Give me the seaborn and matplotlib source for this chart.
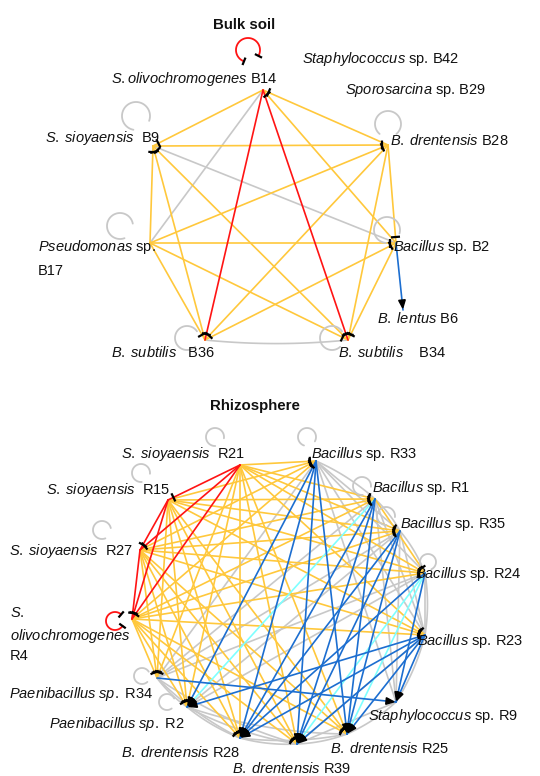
import numpy as np
import pandas as pd
import matplotlib.pyplot as plt
import seaborn as sns

sns.set_theme(style="white")
plt.rcParams['font.family'] = ['Liberation Sans', 'DejaVu Sans']
plt.rcParams['mathtext.fontset'] = 'custom'
plt.rcParams['mathtext.rm'] = 'Liberation Sans'
plt.rcParams['mathtext.it'] = 'Liberation Sans:italic'

# interaction colours
c_mutual = '#FFC83C'     # yellow
c_inhib = '#FF1414'      # red
c_neutral = '#C8C8C8'    # gray
c_promote = '#1C6ED0'    # blue
c_light = '#7FFFFF'      # cyan

# ---------------- Bulk soil ----------------
bulk_ids = ['B14', 'B9', 'B28', 'B17', 'B2', 'B6', 'B36', 'B34', 'B42', 'B29']
bulk_italic = ['S.olivochromogenes', 'S. sioyaensis', 'B. drentensis', 'Pseudomonas',
               'Bacillus', 'B. lentus', 'B. subtilis', 'B. subtilis', 'Staphylococcus', 'Sporosarcina']
bulk_plain = [' B14', '  B9', ' B28', ' sp.', ' sp. B2', ' B6', '   B36', '    B34', ' sp. B42', ' sp. B29']

bulk_yellow = [('B14', 'B9'), ('B2', 'B14'), ('B28', 'B14'), ('B9', 'B28'), ('B17', 'B28'),
               ('B28', 'B2'), ('B17', 'B2'), ('B36', 'B2'), ('B17', 'B9'), ('B36', 'B9'),
               ('B34', 'B9'), ('B17', 'B36'), ('B28', 'B36'), ('B17', 'B34'), ('B2', 'B34'),
               ('B28', 'B34')]
bulk_red = [('B14', 'B36'), ('B14', 'B34')]
bulk_gray = [('B14', 'B17'), ('B9', 'B2')]
bulk_gray_curved = [('B36', 'B34')]
bulk_blue = [('B2', 'B6')]
bulk_gray_loops = ['B9', 'B28', 'B17', 'B2', 'B36', 'B34']
bulk_red_loops = ['B14']

# ---------------- Rhizosphere ----------------
rhizo_ids = ['R21', 'R33', 'R15', 'R1', 'R35', 'R27', 'R24', 'R4', 'R23',
             'R34', 'R2', 'R9', 'R28', 'R39', 'R25']
rhizo_italic = ['S. sioyaensis', 'Bacillus', 'S. sioyaensis', 'Bacillus', 'Bacillus',
                'S. sioyaensis', 'Bacillus', 'S.', 'Bacillus', 'Paenibacillus sp.',
                'Paenibacillus sp.', 'Staphylococcus', 'B. drentensis', 'B. drentensis', 'B. drentensis']
rhizo_plain = ['  R21', ' sp. R33', '  R15', ' sp. R1', ' sp. R35', '  R27', ' sp. R24', '',
               ' sp. R23', ' R34', ' R2', ' sp. R9', ' R28', ' R39', ' R25']

rhizo_red = [('R21', 'R15'), ('R21', 'R27'), ('R21', 'R4'), ('R15', 'R27'), ('R15', 'R4'), ('R27', 'R4')]
rhizo_yellow = [
    ('R21', 'R33'), ('R21', 'R1'), ('R21', 'R35'), ('R21', 'R24'), ('R21', 'R23'),
    ('R21', 'R34'), ('R21', 'R2'), ('R21', 'R28'), ('R21', 'R39'), ('R21', 'R25'),
    ('R15', 'R33'), ('R15', 'R1'), ('R15', 'R35'), ('R15', 'R24'), ('R15', 'R23'),
    ('R15', 'R34'), ('R15', 'R2'), ('R15', 'R28'), ('R15', 'R39'), ('R15', 'R25'),
    ('R27', 'R33'), ('R27', 'R1'), ('R27', 'R35'), ('R27', 'R24'), ('R27', 'R23'),
    ('R27', 'R34'), ('R27', 'R2'), ('R27', 'R28'), ('R27', 'R39'), ('R27', 'R25'),
    ('R4', 'R33'), ('R4', 'R1'), ('R4', 'R35'), ('R4', 'R24'), ('R4', 'R23'),
    ('R4', 'R34'), ('R4', 'R2'), ('R4', 'R28'), ('R4', 'R39'), ('R4', 'R25'),
    ('R1', 'R24')]
rhizo_blue = [
    ('R33', 'R28'), ('R33', 'R39'), ('R33', 'R25'), ('R33', 'R2'),
    ('R1', 'R28'), ('R1', 'R39'), ('R1', 'R25'),
    ('R35', 'R28'), ('R35', 'R39'), ('R35', 'R25'),
    ('R24', 'R28'), ('R24', 'R9'),
    ('R23', 'R28'), ('R23', 'R39'), ('R23', 'R25'), ('R23', 'R9'), ('R23', 'R2'),
    ('R34', 'R9')]
rhizo_cyan = [('R1', 'R2'), ('R24', 'R39'), ('R24', 'R25')]
rhizo_gray = [
    ('R33', 'R35'), ('R33', 'R24'), ('R33', 'R23'), ('R1', 'R23'), ('R35', 'R23'),
    ('R33', 'R34'), ('R1', 'R34'), ('R35', 'R34'), ('R35', 'R2'), ('R24', 'R34'), ('R24', 'R2'),
    ('R33', 'R9'), ('R1', 'R9'), ('R35', 'R9'), ('R23', 'R39'), ('R9', 'R39'), ('R24', 'R23')]
rhizo_gray_curved = [
    ('R33', 'R1'), ('R1', 'R35'), ('R35', 'R24'), ('R24', 'R23'), ('R23', 'R9'),
    ('R34', 'R2'), ('R34', 'R28'), ('R2', 'R28'), ('R2', 'R39'), ('R28', 'R39'),
    ('R28', 'R25'), ('R39', 'R25'), ('R34', 'R39'), ('R2', 'R25'), ('R9', 'R25')]
rhizo_gray_loops = ['R21', 'R33', 'R15', 'R1', 'R35', 'R27', 'R24', 'R34', 'R2']
rhizo_red_loops = ['R4']

# ---------------- layout (pixel units) ----------------
pos = {
    'B14': (263, 90), 'B9': (153, 146), 'B28': (388, 145), 'B17': (150, 243),
    'B2': (396, 243), 'B6': (403, 310), 'B36': (205, 340), 'B34': (348, 340),
    'R21': (240, 465), 'R33': (316, 461), 'R15': (168, 500), 'R1': (375, 499),
    'R35': (400, 531), 'R27': (140, 550), 'R24': (425, 573), 'R4': (132, 619),
    'R23': (425, 635), 'R34': (157, 678), 'R2': (187, 707), 'R9': (396, 702),
    'R28': (240, 738), 'R39': (297, 744), 'R25': (347, 734)}
# label anchor: x, baseline y, alignment
lab = {
    'B14': (278, 83, 'right'), 'B9': (160, 142, 'right'), 'B28': (390, 145, 'left'),
    'B17': (38, 251, 'left'), 'B2': (393, 251, 'left'), 'B6': (377, 323, 'left'),
    'B36': (215, 357, 'right'), 'B34': (338, 357, 'left'), 'B42': (302, 63, 'left'),
    'B29': (345, 94, 'left'),
    'R21': (245, 458, 'right'), 'R33': (311, 458, 'left'), 'R15': (170, 494, 'right'),
    'R1': (372, 492, 'left'), 'R35': (400, 528, 'left'), 'R27': (133, 555, 'right'),
    'R24': (415, 578, 'left'), 'R4': (10, 617, 'left'), 'R23': (417, 645, 'left'),
    'R34': (153, 698, 'right'), 'R2': (185, 728, 'right'), 'R9': (368, 720, 'left'),
    'R28': (240, 757, 'right'), 'R39': (232, 773, 'left'), 'R25': (330, 753, 'left')}
# self loops: centre x, centre y, radius
loops = {
    'B14': (248, 50, 12), 'B9': (136, 116, 14), 'B28': (388, 124, 13), 'B17': (120, 226, 13),
    'B2': (387, 230, 13), 'B36': (187, 338, 12), 'B34': (332, 338, 12),
    'R21': (215, 437, 9), 'R33': (307, 437, 9), 'R15': (141, 473, 9), 'R1': (362, 486, 9),
    'R35': (386, 516, 9), 'R27': (102, 530, 9), 'R24': (428, 562, 8), 'R4': (115, 621, 9),
    'R34': (142, 676, 8), 'R2': (167, 702, 8)}
centre_bulk = (270, 215)
centre_rhizo = (285, 605)

fig = plt.figure(figsize=(5.4, 7.76), dpi=100)
ax = fig.add_axes([0, 0, 1, 1])


def unit(p, q):
    d = np.subtract(q, p).astype(float)
    return d / np.hypot(*d)


def curve(p, q, centre, bend):
    p, q = np.array(p, float), np.array(q, float)
    mid = (p + q) / 2
    u = unit(p, q)
    n = np.array([-u[1], u[0]])
    if np.dot(mid - np.array(centre), n) < 0:
        n = -n
    ctrl = mid + n * bend * np.hypot(*(q - p))
    t = np.linspace(0, 1, 30)[:, None]
    return (1 - t) ** 2 * p + 2 * (1 - t) * t * ctrl + t ** 2 * q, ctrl


def draw_bar(p, q, dist=6, half=4.5):
    u = unit(p, q)
    c = np.array(q) - u * dist
    n = np.array([-u[1], u[0]])
    a, b = c + n * half, c - n * half
    ax.plot([a[0], b[0]], [a[1], b[1]], color='black', lw=1.6, solid_capstyle='butt', zorder=6)


def draw_arrow(p, q, dist=2, length=8, half=3.3):
    u = unit(p, q)
    tip = np.array(q) - u * dist
    base = tip - u * length
    n = np.array([-u[1], u[0]])
    ax.add_patch(plt.Polygon([tip, base + n * half, base - n * half], color='black', zorder=6))


def edges_frame(pairs, centre=None, bend=0.0):
    rows = []
    for k, (a, b) in enumerate(pairs):
        if centre is None:
            pts = np.array([pos[a], pos[b]], float)
        else:
            pts, _ = curve(pos[a], pos[b], centre, bend)
        for x, y in pts:
            rows.append({'edge': k, 'x': x, 'y': y})
    return pd.DataFrame(rows)


def draw_edges(pairs, color, z, end=None, centre=None, bend=0.0, lw=1.2):
    if not pairs:
        return
    df = edges_frame(pairs, centre, bend)
    sns.lineplot(data=df, x='x', y='y', units='edge', estimator=None, sort=False,
                 color=color, lw=lw, ax=ax, zorder=z, legend=False)
    for a, b in pairs:
        src = pos[a]
        if centre is not None:
            _, src = curve(pos[a], pos[b], centre, bend)
        if end == 'bar':
            draw_bar(src, pos[b])
        elif end == 'arrow':
            draw_arrow(src, pos[b])


def draw_loop(node, color, bar=False):
    cx, cy, r = loops[node]
    nx, ny = pos[node]
    g = np.arctan2(ny - cy, nx - cx)
    t = np.linspace(g + 0.7, g + 2 * np.pi - 0.7, 60)
    xs, ys = cx + r * np.cos(t), cy + r * np.sin(t)
    ax.plot(xs, ys, color=color, lw=1.3, zorder=2)
    if bar:
        for i, j in [(1, 0), (-2, -1)]:
            draw_bar((xs[i], ys[i]), (xs[j], ys[j]), dist=0, half=4)


fs = 10.5


def label(node, italic, plain):
    x, y, ha = lab[node]
    s = r'$\mathit{' + italic.replace(' ', r'\;') + '}$' + plain
    ax.text(x, y, s, ha=ha, va='baseline', fontsize=fs, color='#111111', zorder=8)


# bulk soil network
draw_edges(bulk_gray, c_neutral, 1)
draw_edges(bulk_gray_curved, c_neutral, 1, centre=centre_bulk, bend=0.05)
draw_edges(bulk_yellow, c_mutual, 2, end='bar')
draw_edges(bulk_blue, c_promote, 3, end='arrow')
draw_edges(bulk_red, c_inhib, 4, end='bar')
for n in bulk_gray_loops:
    draw_loop(n, c_neutral)
for n in bulk_red_loops:
    draw_loop(n, c_inhib, bar=True)
for n, it, pl in zip(bulk_ids, bulk_italic, bulk_plain):
    label(n, it, pl)
ax.text(38, 275, 'B17', ha='left', va='baseline', fontsize=fs, color='#111111')

# rhizosphere network
draw_edges(rhizo_gray, c_neutral, 1)
draw_edges(rhizo_gray_curved, c_neutral, 1, centre=centre_rhizo, bend=0.08)
draw_edges(rhizo_yellow, c_mutual, 2, end='bar')
draw_edges(rhizo_cyan, c_light, 3, end='arrow')
draw_edges(rhizo_blue, c_promote, 3, end='arrow')
draw_edges(rhizo_red, c_inhib, 4, end='bar')
for n in rhizo_gray_loops:
    draw_loop(n, c_neutral)
for n in rhizo_red_loops:
    draw_loop(n, c_inhib, bar=True)
for n, it, pl in zip(rhizo_ids, rhizo_italic, rhizo_plain):
    label(n, it, pl)
ax.text(10, 640, r'$\mathit{olivochromogenes}$', ha='left', va='baseline', fontsize=fs, color='#111111')
ax.text(10, 660, 'R4', ha='left', va='baseline', fontsize=fs, color='#111111')

ax.text(244, 25, 'Bulk soil', ha='center', va='center', fontsize=10.8, fontweight='bold', color='#111111')
ax.text(255, 406, 'Rhizosphere', ha='center', va='center', fontsize=10.8, fontweight='bold', color='#111111')

ax.set_xlim(0, 540)
ax.set_ylim(776, 0)
ax.axis('off')
fig.savefig('out.png', dpi=100)
